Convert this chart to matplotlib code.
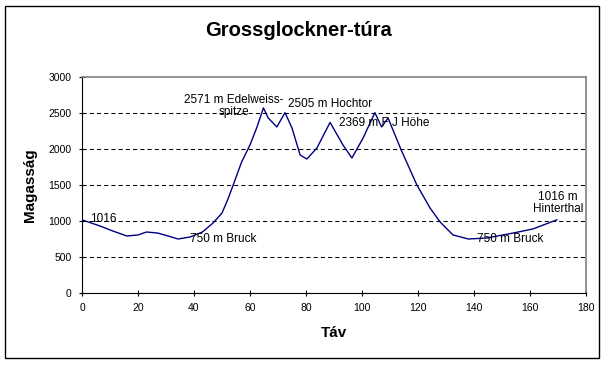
import matplotlib.pyplot as plt
from matplotlib.patches import Rectangle

plt.rcParams['font.family'] = ['Liberation Sans', 'DejaVu Sans']
plt.rcParams['lines.scale_dashes'] = False

# ---- Data ----
tav = [0, 6.4, 11, 16, 20, 23, 27, 30.7, 34.3, 38.6, 43, 46.8, 50, 52, 54,
       57, 60, 62.5, 64.8, 66.5, 69.6, 72.5, 75, 77.9, 80.3, 83.9, 88.6, 93.2,
       96.4, 100.4, 104.6, 107, 109.3, 114, 119.6, 124.3, 127.9, 132.5, 138,
       144.6, 154, 161, 169.6]
magassag = [1016, 931, 861, 792, 806, 847, 833, 792, 750, 778, 847, 972, 1111,
            1292, 1500, 1819, 2056, 2306, 2571, 2431, 2306, 2505, 2292, 1917,
            1861, 2014, 2369, 2056, 1875, 2153, 2505, 2306, 2431, 1986, 1500,
            1181, 986, 806, 750, 764, 833, 889, 1016]

# labelled points: (index into the series, text)
label_idx = [0, 8, 18, 21, 26, 38, 42]
label_txt = ["1016", "750 m Bruck", "2571 m Edelweiss-\nspitze", "2505 m Hochtor",
             "2369 m F J Höhe", "750 m Bruck", "1016 m\nHinterthal"]
label_off = [(8, 1), (12, 0), (-30, 2), (3, 9), (9, -1), (9, 0), (1, 17)]
label_ha = ['left', 'left', 'center', 'left', 'left', 'left', 'center']

yticks = [0, 500, 1000, 1500, 2000, 2500, 3000]
xticks = list(range(0, 181, 20))

# ---- Plot ----
fig = plt.figure(figsize=(6.04, 3.65), dpi=100)
ax = fig.add_axes([82 / 604, 1 - 293 / 365, 504 / 604, 216 / 365])

for yv in yticks[1:-1]:
    ax.axhline(yv, color='black', lw=0.75, dashes=(3, 2.2), zorder=1)

ax.plot(tav, magassag, color='#000080', lw=1.0, zorder=3)

for i, txt, off, ha in zip(label_idx, label_txt, label_off, label_ha):
    ax.annotate(txt, xy=(tav[i], magassag[i]), xytext=off,
                textcoords='offset pixels', ha=ha, va='center',
                fontsize=8.5, linespacing=1.05, zorder=4)

ax.set_xlim(0, 180)
ax.set_ylim(0, 3000)
ax.set_xticks(xticks)
ax.set_yticks(yticks)
ax.tick_params(direction='inout', length=5, width=0.8, labelsize=7.5, pad=5)

for s in ['top', 'right']:
    ax.spines[s].set_color('#808080')
    ax.spines[s].set_linewidth(1.2)
for s in ['left', 'bottom']:
    ax.spines[s].set_color('black')
    ax.spines[s].set_linewidth(0.8)

ax.set_xlabel("Táv", fontsize=11, fontweight='bold', labelpad=9)
ax.set_ylabel("Magasság", fontsize=11, fontweight='bold', labelpad=8)
fig.text(298 / 604, 1 - 31 / 365, "Grossglockner-túra", ha='center', va='center',
         fontsize=14.5, fontweight='bold')

# outer chart frame
fig.patches.append(Rectangle((5 / 604, 1 - 358 / 365), 594 / 604, 352 / 365,
                             transform=fig.transFigure, fill=False,
                             edgecolor='black', lw=1.0))

fig.savefig('out.png', dpi=100)
